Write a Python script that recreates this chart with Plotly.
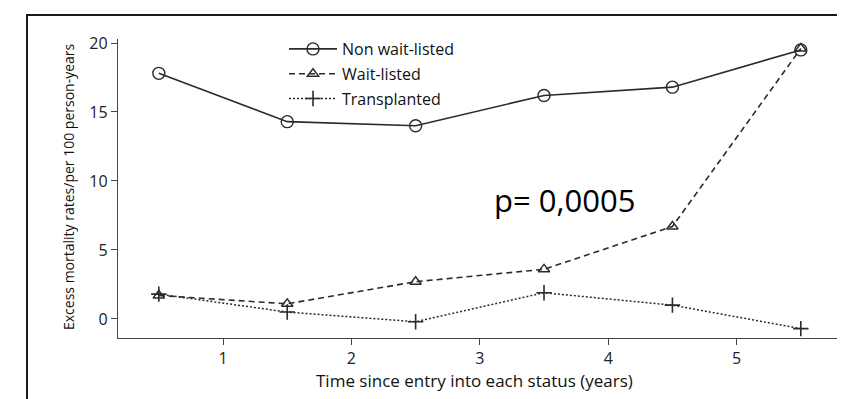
import plotly.graph_objects as go

years = [0.5, 1.5, 2.5, 3.5, 4.5, 5.5]
non_wait_listed = [17.8, 14.3, 14.0, 16.2, 16.8, 19.5]
wait_listed = [1.7, 1.1, 2.7, 3.6, 6.7, 19.6]
transplanted = [1.8, 0.5, -0.2, 1.9, 1.0, -0.7]
x_ticks = [1, 2, 3, 4, 5]
y_ticks = [0, 5, 10, 15, 20]

W, H = 845, 399
L, R, T, B = 110, 12, 31, 69
pw, ph = W - L - R, H - T - B

def px_x(p):
    return (p - L) / pw

def px_y(p):
    return (H - B - p) / ph

fig = go.Figure()
fig.add_trace(go.Scatter(
    x=years, y=non_wait_listed, name="Non wait-listed", mode="lines+markers",
    legendgroup="a",
    line=dict(color="#2b2b2b", width=1.6, dash="solid"),
    marker=dict(symbol="circle-open", size=12, color="#2b2b2b", line=dict(width=1.4)),
))
fig.add_trace(go.Scatter(
    x=years, y=wait_listed, name="Wait-listed", mode="lines+markers",
    legendgroup="b",
    line=dict(color="#2b2b2b", width=1.6, dash="6px,4px"),
    marker=dict(symbol="triangle-up-open", size=10, color="#2b2b2b", line=dict(width=1.4)),
))
fig.add_trace(go.Scatter(
    x=years, y=transplanted, name="Transplanted", mode="lines+markers",
    legendgroup="c",
    line=dict(color="#2b2b2b", width=1.5, dash="2px,2px"),
    marker=dict(symbol="cross-thin", size=11, color="#2b2b2b", line=dict(width=1.6, color="#2b2b2b")),
))

fig.add_annotation(
    x=3.66, y=8.6, xref="x", yref="y", text="p= 0,0005", showarrow=False,
    font=dict(family="Open Sans", size=31, color="#000000"),
)

# axis titles
fig.add_annotation(
    x=px_x(466), y=px_y(372), xref="paper", yref="paper", xanchor="center", yanchor="middle",
    text="Time since entry into each status (years)", showarrow=False,
    font=dict(family="Open Sans", size=17, color="#111111"),
)
fig.add_annotation(
    x=px_x(60), y=px_y(179), xref="paper", yref="paper", xanchor="center", yanchor="middle",
    text="Excess mortality rates/per 100 person-years", showarrow=False, textangle=-90,
    font=dict(family="Open Sans", size=14, color="#111111"),
)

fig.add_shape(
    type="rect", xref="paper", yref="paper",
    x0=px_x(19), y0=px_y(7), x1=px_x(W + 20), y1=px_y(H + 20),
    line=dict(color="#1a1a1a", width=2), fillcolor="rgba(0,0,0,0)", layer="above",
)

fig.update_layout(
    width=W, height=H,
    margin=dict(l=L, r=R, t=T, b=B, pad=0),
    paper_bgcolor="white", plot_bgcolor="white",
    font=dict(family="Open Sans", color="#222222"),
    showlegend=True,
    legend=dict(
        x=px_x(276), y=px_y(24), xanchor="left", yanchor="top",
        font=dict(family="Open Sans", size=16, color="#111111"),
        bgcolor="rgba(0,0,0,0)", itemwidth=48,
        traceorder="grouped", tracegroupgap=1,
    ),
    xaxis=dict(
        range=[0.182, 5.813], tickmode="array", tickvals=x_ticks,
        ticktext=[str(v) for v in x_ticks],
        showgrid=False, zeroline=False, showline=True, linecolor="#444444", linewidth=1.3,
        ticks="outside", ticklen=6, tickcolor="#444444", tickwidth=1.3,
        tickfont=dict(family="Open Sans", size=16, color="#222222"),
    ),
    yaxis=dict(
        range=[-1.38, 20.29], tickmode="array", tickvals=y_ticks,
        ticktext=[str(v) for v in y_ticks],
        showgrid=False, zeroline=False, showline=True, linecolor="#444444", linewidth=1.3,
        ticks="outside", ticklen=6, tickcolor="#444444", tickwidth=1.3,
        tickfont=dict(family="Open Sans", size=16, color="#222222"),
    ),
)

fig.write_html("out.html")
